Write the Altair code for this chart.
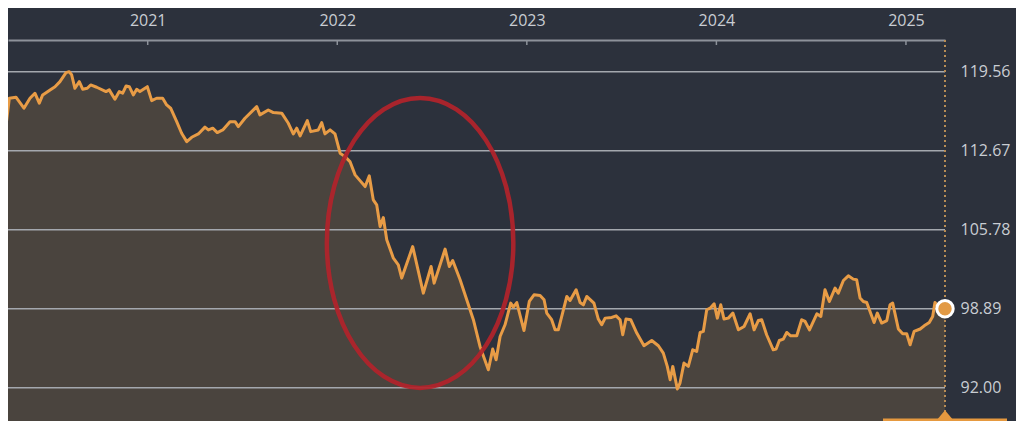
import altair as alt
import pandas as pd

# ---- data ----
years = [2020.221, 2020.230, 2020.252, 2020.270, 2020.305, 2020.347, 2020.379, 2020.405, 2020.428, 2020.446,
         2020.485, 2020.511, 2020.537, 2020.569, 2020.586, 2020.599, 2020.616, 2020.639, 2020.657, 2020.681,
         2020.699, 2020.731, 2020.780, 2020.797, 2020.827, 2020.850, 2020.868, 2020.886, 2020.903, 2020.924,
         2020.942, 2020.959, 2020.998, 2021.021, 2021.047, 2021.079, 2021.100, 2021.121, 2021.153, 2021.179,
         2021.206, 2021.232, 2021.267, 2021.302, 2021.320, 2021.343, 2021.367, 2021.396, 2021.434, 2021.461,
         2021.478, 2021.513, 2021.575, 2021.592, 2021.636, 2021.663, 2021.707, 2021.742, 2021.768, 2021.786,
         2021.804, 2021.842, 2021.860, 2021.900, 2021.918, 2021.935, 2021.962, 2021.988, 2022.015, 2022.041,
         2022.067, 2022.094, 2022.120, 2022.147, 2022.169, 2022.190, 2022.208, 2022.226, 2022.243, 2022.261,
         2022.296, 2022.322, 2022.340, 2022.398, 2022.454, 2022.495, 2022.511, 2022.569, 2022.591, 2022.609,
         2022.648, 2022.683, 2022.718, 2022.753, 2022.797, 2022.820, 2022.838, 2022.859, 2022.885, 2022.915,
         2022.929, 2022.947, 2022.985, 2023.013, 2023.038, 2023.070, 2023.091, 2023.105, 2023.131, 2023.149,
         2023.166, 2023.211, 2023.228, 2023.260, 2023.281, 2023.298, 2023.316, 2023.354, 2023.377, 2023.395,
         2023.413, 2023.448, 2023.471, 2023.492, 2023.506, 2023.523, 2023.548, 2023.580, 2023.618, 2023.659,
         2023.694, 2023.720, 2023.741, 2023.756, 2023.770, 2023.794, 2023.808, 2023.829, 2023.852, 2023.875,
         2023.896, 2023.914, 2023.931, 2023.949, 2023.967, 2023.988, 2024.005, 2024.023, 2024.040, 2024.063,
         2024.087, 2024.116, 2024.146, 2024.178, 2024.199, 2024.221, 2024.239, 2024.265, 2024.300, 2024.315,
         2024.332, 2024.353, 2024.371, 2024.392, 2024.424, 2024.450, 2024.468, 2024.491, 2024.530, 2024.551,
         2024.573, 2024.596, 2024.626, 2024.643, 2024.670, 2024.696, 2024.722, 2024.740, 2024.758, 2024.775,
         2024.793, 2024.832, 2024.849, 2024.872, 2024.899, 2024.916, 2024.930, 2024.960, 2024.983, 2025.004,
         2025.022, 2025.043, 2025.075, 2025.096, 2025.123, 2025.141, 2025.153, 2025.171, 2025.206]

values = [110.12, 115.79, 114.77, 117.24, 117.33, 116.37, 117.24, 117.68, 116.81, 117.53,
          117.97, 118.25, 118.69, 119.47, 119.56, 119.27, 118.11, 118.69, 118.03, 118.11,
          118.40, 118.20, 117.82, 117.97, 117.16, 117.82, 117.68, 118.31, 118.25, 117.53,
          118.03, 117.82, 118.25, 117.03, 117.24, 117.24, 116.66, 116.37, 115.20, 114.19,
          113.46, 113.84, 114.13, 114.72, 114.48, 114.63, 114.25, 114.48, 115.20, 115.20,
          114.77, 115.50, 116.51, 115.79, 116.22, 115.99, 115.94, 115.06, 114.13, 114.63,
          113.96, 115.29, 114.33, 114.48, 115.12, 114.13, 114.48, 114.13, 112.45, 112.15,
          111.72, 110.56, 110.06, 109.54, 110.47, 108.38, 107.95, 106.05, 106.84, 104.90,
          103.30, 102.72, 101.56, 104.31, 100.25, 102.57, 101.12, 104.09, 102.57, 103.09,
          101.41, 99.67, 97.93, 95.60, 93.57, 95.37, 94.44, 96.47, 97.49, 99.38,
          99.03, 99.43, 96.99, 99.52, 100.10, 100.04, 99.67, 98.51, 97.93, 97.05,
          97.05, 99.96, 99.61, 100.54, 99.43, 99.23, 99.96, 99.38, 97.99, 97.49,
          98.07, 98.13, 98.27, 97.93, 96.62, 97.99, 97.93, 96.77, 95.66, 96.12,
          95.66, 95.02, 93.86, 92.70, 93.86, 91.89, 92.41, 94.15, 93.86, 95.31,
          95.16, 96.82, 96.91, 98.80, 98.94, 99.32, 98.07, 99.23, 97.99, 98.07,
          98.51, 97.05, 97.34, 98.45, 97.05, 97.86, 97.93, 96.62, 95.31, 95.37,
          96.12, 96.24, 96.82, 96.53, 96.53, 97.93, 97.78, 97.05, 98.45, 98.21,
          100.54, 99.52, 100.69, 100.25, 101.35, 101.76, 101.47, 101.41, 99.82, 99.52,
          99.43, 97.69, 98.51, 97.64, 97.86, 99.23, 99.38, 97.12, 96.71, 96.71,
          95.75, 96.91, 97.12, 97.40, 97.69, 98.21, 99.43, 99.08, 98.89]

year_ticks = [2021, 2022, 2023, 2024, 2025]
value_ticks = [92.00, 98.89, 105.78, 112.67, 119.56]

# annotation (red ellipse) centre, in data units
ellipse_center = {"t": 2022.437, "v": 104.63}

# ---- layout / style ----
W, H = 937, 381
X_DOMAIN = [2020.263, 2025.206]
Y_DOMAIN = [89.10, 122.32]
BG = "#2c313c"
AREA = "#4a443e"
LINE = "#e89c46"
AXIS_C = "#8d929a"
GRID_C = "#a4a8ae"
LABEL_C = "#c9cdd3"
FONT = "Open Sans"

df = pd.DataFrame({"t": years, "v": values})
last = df.tail(1)
ticks_df = pd.DataFrame({"t": year_ticks})
grid_df = pd.DataFrame({"v": value_ticks})
ell_df = pd.DataFrame([ellipse_center])

xs = alt.Scale(domain=X_DOMAIN, nice=False, zero=False)
ys = alt.Scale(domain=Y_DOMAIN, nice=False, zero=False)

x_axis = alt.Axis(orient="top", values=year_ticks, format="d", grid=False, ticks=False, tickSize=0,
                  labelPadding=12, domainColor=AXIS_C, domainWidth=2, labelColor=LABEL_C,
                  labelFontSize=16, labelFont=FONT, title=None)
y_axis = alt.Axis(orient="right", values=value_ticks, format=".2f", grid=False, ticks=False, tickSize=0,
                  domain=False, labelPadding=15, labelColor=LABEL_C, labelFontSize=16, labelFont=FONT,
                  title=None)


def X():
    return alt.X("t:Q", scale=xs, axis=x_axis)


def Y():
    return alt.Y("v:Q", scale=ys, axis=y_axis)


area = alt.Chart(df).mark_area(color=AREA, clip=True, interpolate="linear").encode(
    x=X(), y=Y(), y2=alt.Y2(datum=Y_DOMAIN[0]),
)

grid = alt.Chart(grid_df).mark_rule(color=GRID_C, strokeWidth=1.5).encode(
    y=Y(), x=alt.value(0), x2=alt.value(W),
)

line = alt.Chart(df).mark_line(color=LINE, strokeWidth=3, clip=True, strokeJoin="round").encode(
    x=X(), y=Y(),
)

vline = alt.Chart(last).mark_rule(color="#b88d55", strokeWidth=2, strokeDash=[2, 3]).encode(
    x=X(), y=alt.value(0), y2=alt.value(H),
)

yticks = alt.Chart(ticks_df).mark_rule(color=AXIS_C, strokeWidth=1.5).encode(
    x=X(), y=alt.value(0), y2=alt.value(5),
)

ellipse_path = ("M0,-1 C0.355,-1 0.643,-0.552 0.643,0 C0.643,0.552 0.355,1 0,1 "
                "C-0.355,1 -0.643,0.552 -0.643,0 C-0.643,-0.552 -0.355,-1 0,-1 Z")
ellipse = alt.Chart(ell_df).mark_point(shape=ellipse_path, size=84100, filled=False,
                                       stroke="#b3232b", strokeWidth=4.5, opacity=0.92).encode(
    x=X(), y=Y(),
)

endpoint = alt.Chart(last).mark_point(shape="circle", size=270, filled=True, fill="#e29a45",
                                      stroke="white", strokeWidth=3, opacity=1).encode(
    x=X(), y=Y(),
)

tri = alt.Chart(last).mark_point(shape="M-1,0 L0,-1.2 L1,0 Z", size=324, filled=True,
                                 fill="#e6993f", opacity=1).encode(
    x=X(), y=alt.value(H),
)

strip = alt.Chart(last).mark_rect(color="#e6993f").encode(
    x=alt.value(875), x2=alt.value(999), y=alt.value(H - 2.5), y2=alt.value(H),
)

chart = alt.layer(area, grid, line, vline, yticks, ellipse, tri, strip, endpoint).properties(
    width=W, height=H,
    autosize=alt.AutoSizeParams(type="none"),
    padding={"left": 0, "top": 32, "right": 71, "bottom": 0},
    background=BG,
).configure_view(stroke=None)

chart.save("out.html", embed_options={"renderer": "svg", "actions": False})
